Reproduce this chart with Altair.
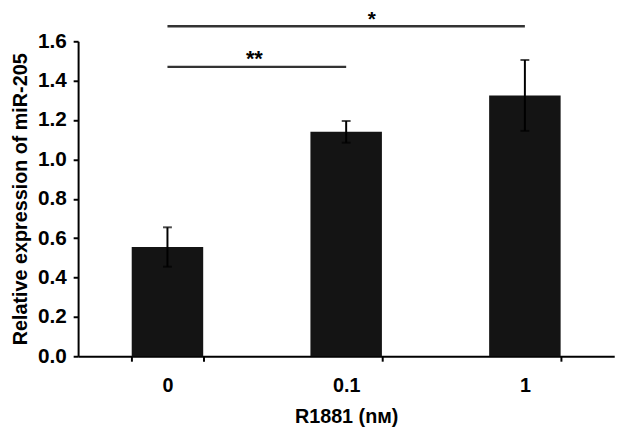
import altair as alt
import pandas as pd

categories = ["0", "0.1", "1"]
means = [0.555, 1.14, 1.325]
errors = [0.10, 0.055, 0.18]

sig_start = ["0", "0"]
sig_end = ["0.1", "1"]
sig_mid = ["0", "0.1"]
sig_y = [1.47, 1.676]
sig_text = ["**", "*"]

df = pd.DataFrame({"cat": categories, "mean": means, "err": errors})
df["lo"] = df["mean"] - df["err"]
df["hi"] = df["mean"] + df["err"]
sig = pd.DataFrame({"start": sig_start, "end": sig_end, "mid": sig_mid, "y": sig_y, "label": sig_text})

font = "Liberation Sans"
xscale = alt.Scale(domain=categories, paddingInner=0.6, paddingOuter=0.3)
yscale = alt.Scale(domain=[0, 1.6])

xaxis = alt.Axis(title="R1881 (nᴍ)", labelAngle=0, tickBand="extent",
                 labelPadding=15, titlePadding=11, titleFontSize=20)
yaxis = alt.Axis(title="Relative expression of miR-205",
                 values=[0, 0.2, 0.4, 0.6, 0.8, 1.0, 1.2, 1.4, 1.6],
                 format=".1f", labelPadding=7, titlePadding=7, labelFontSize=21)


def X(field):
    return alt.X(field, scale=xscale, sort=categories, axis=xaxis, title="R1881 (nᴍ)")


def Y(field):
    return alt.Y(field, scale=yscale, axis=yaxis, title="Relative expression of miR-205")


base = alt.Chart(df)

bars = base.mark_bar(color="#141414").encode(x=X("cat:N"), y=Y("mean:Q"))

err_rule = base.mark_rule(color="black", strokeWidth=2).encode(
    x=X("cat:N"), y=Y("lo:Q"), y2="hi:Q",
)
cap_hi = base.mark_tick(color="black", size=9, thickness=2).encode(x=X("cat:N"), y=Y("hi:Q"))
cap_lo = base.mark_tick(color="black", size=9, thickness=2).encode(x=X("cat:N"), y=Y("lo:Q"))

sig_base = alt.Chart(sig)
sig_lines = sig_base.mark_rule(color="#333333", strokeWidth=2.5).encode(
    x=X("start:N"), x2="end:N", y=Y("y:Q"),
)
star2 = sig_base.transform_filter(alt.datum.label == "**").mark_text(
    font=font, fontSize=22, fontWeight="bold", baseline="alphabetic", dx=88, dy=-1, color="black"
).encode(x=X("mid:N"), y=Y("y:Q"), text="label:N")
star1 = sig_base.transform_filter(alt.datum.label == "*").mark_text(
    font=font, fontSize=21, fontWeight="bold", baseline="alphabetic", dx=26, dy=0, color="black"
).encode(x=X("mid:N"), y=Y("y:Q"), text="label:N")

chart = alt.layer(bars, err_rule, cap_hi, cap_lo, sig_lines, star2, star1).properties(
    width=543, height=319,
    autosize=alt.AutoSizeParams(type="none"),
    padding={"left": 71, "top": 31, "right": 19, "bottom": 74},
    background="white",
).configure_axis(
    labelFont=font, titleFont=font, labelFontSize=20, titleFontSize=20,
    labelFontWeight="bold", titleFontWeight="bold", labelColor="black", titleColor="black",
    domainColor="black", tickColor="black", domainWidth=2, tickWidth=2, tickSize=5,
    grid=False,
).configure_view(stroke=None)

chart.save("out.html", embed_options={"renderer": "svg", "actions": False})
